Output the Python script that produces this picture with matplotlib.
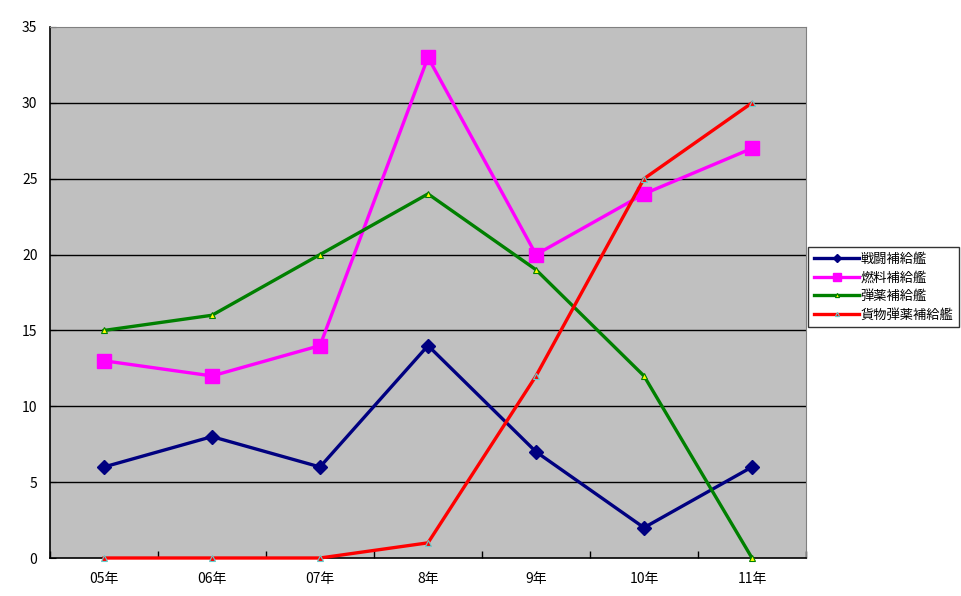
import numpy as np
import matplotlib
matplotlib.use('Agg')
import matplotlib.pyplot as plt

plt.rcParams['font.family'] = ['Noto Sans CJK JP', 'DejaVu Sans']

years = ['05年', '06年', '07年', '8年', '9年', '10年', '11年']
sentou = [6, 8, 6, 14, 7, 2, 6]
nenryou = [13, 12, 14, 33, 20, 24, 27]
danyaku = [15, 16, 20, 24, 19, 12, 0]
kamotsu = [0, 0, 0, 1, 12, 25, 30]

x = np.arange(len(years))

fig = plt.figure(figsize=(9.62, 5.96), dpi=100)
ax = fig.add_axes([50/962, 38/596, 756/962, 531/596])
ax.set_facecolor('#C0C0C0')

for v in range(5, 35, 5):
    ax.axhline(v, color='black', lw=1, zorder=1)

ax.plot(x, sentou, color='#000080', lw=2.4, marker='D', ms=7,
        mfc='#000080', mec='#000080', label='戦闘補給艦', zorder=3, clip_on=False)
ax.plot(x, nenryou, color='#FF00FF', lw=2.4, marker='s', ms=10,
        mfc='#FF00FF', mec='#FF00FF', label='燃料補給艦', zorder=3, clip_on=False)
ax.plot(x, danyaku, color='#008000', lw=2.4, marker='^', ms=5,
        mfc='#FFFF00', mec='#008000', mew=0.8, label='弾薬補給艦', zorder=3, clip_on=False)
ax.plot(x, kamotsu, color='#FF0000', lw=2.4, marker='^', ms=5,
        mfc='#FF0000', mec='#66CCCC', mew=0.8, label='貨物弾薬補給艦', zorder=3, clip_on=False)

ax.set_xlim(-0.5, 6.5)
ax.set_ylim(0, 35)
ax.set_yticks(range(0, 36, 5))
ax.set_xticks(x)
ax.set_xticklabels(years)
ax.set_xticks(np.arange(-0.5, 7, 1), minor=True)
ax.tick_params(axis='x', which='major', length=0, pad=10, labelsize=10)
ax.tick_params(axis='x', which='minor', direction='in', length=5, width=1)
ax.tick_params(axis='y', direction='in', length=4, pad=9, labelsize=10)

for side in ['top', 'right']:
    ax.spines[side].set_color('#808080')
for side in ['left', 'bottom']:
    ax.spines[side].set_color('black')
    ax.spines[side].set_linewidth(1.2)

leg = ax.legend(loc='center left', bbox_to_anchor=(1.003, 0.51), fontsize=9.5,
                frameon=True, fancybox=False, edgecolor='black',
                borderaxespad=0, handlelength=3.4, handletextpad=0.1,
                labelspacing=0.42, borderpad=0.45, markerscale=0.6)
leg.get_frame().set_linewidth(1)

fig.savefig('out.png', dpi=100)
